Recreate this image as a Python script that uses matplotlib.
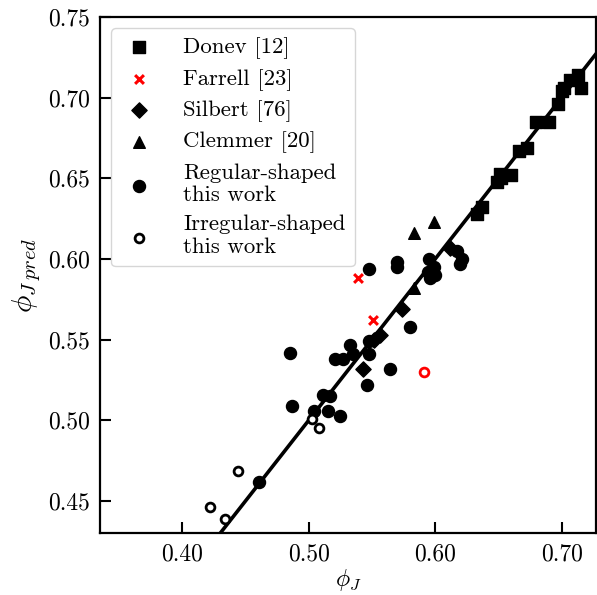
import numpy as np
import matplotlib
matplotlib.use('Agg')
import matplotlib.pyplot as plt

plt.rcParams['font.family'] = 'serif'
plt.rcParams['font.serif'] = ['cmr10', 'DejaVu Serif']
plt.rcParams['mathtext.fontset'] = 'cm'
plt.rcParams['axes.formatter.use_mathtext'] = True

# Donev [12]
donev_x = [0.713, 0.707, 0.715, 0.702, 0.697, 0.700, 0.690, 0.680, 0.673, 0.666,
           0.660, 0.651, 0.649, 0.652, 0.637, 0.633]
donev_y = [0.714, 0.711, 0.706, 0.706, 0.696, 0.704, 0.685, 0.685, 0.669, 0.667,
           0.652, 0.653, 0.648, 0.650, 0.632, 0.628]
# Farrell [23]
farrell_x = [0.539, 0.551]
farrell_y = [0.588, 0.562]
# Silbert [76]
silbert_x = [0.574, 0.556, 0.552, 0.543, 0.612]
silbert_y = [0.569, 0.553, 0.550, 0.532, 0.607]
# Clemmer [20]
clemmer_x = [0.583, 0.599, 0.583]
clemmer_y = [0.616, 0.623, 0.582]
# regular-shaped, this work
reg_x = [0.548, 0.570, 0.570, 0.595, 0.599, 0.596, 0.594, 0.600, 0.617, 0.621,
         0.620, 0.580, 0.485, 0.533, 0.521, 0.527, 0.535, 0.548, 0.548, 0.564,
         0.546, 0.487, 0.511, 0.517, 0.504, 0.515, 0.525, 0.461]
reg_y = [0.594, 0.598, 0.595, 0.600, 0.595, 0.588, 0.592, 0.590, 0.605, 0.600,
         0.597, 0.558, 0.542, 0.547, 0.538, 0.538, 0.541, 0.541, 0.549, 0.532,
         0.522, 0.509, 0.516, 0.515, 0.506, 0.506, 0.503, 0.462]
# irregular-shaped, this work
irr_x = [0.503, 0.508, 0.444, 0.422, 0.434]
irr_y = [0.501, 0.495, 0.4685, 0.446, 0.439]
irr_red_x = [0.591]
irr_red_y = [0.530]

# fit line y = a*x + b
fit_a, fit_b = 1.0, 0.0

fig = plt.figure(figsize=(5.97, 5.95), dpi=100)
ax = fig.add_axes([0.1675, 0.1037, 0.8315, 0.8677])

xs = np.array([0.3, 0.8])
ax.plot(xs, fit_a * xs + fit_b, color='black', linewidth=2.6, zorder=1)

ax.scatter(donev_x, donev_y, marker='s', s=80, color='black', label='Donev [12]', zorder=2)
ax.scatter(farrell_x, farrell_y, marker='x', s=40, color='red', linewidths=2.2,
           label='Farrell [23]', zorder=2)
ax.scatter(silbert_x, silbert_y, marker='D', s=60, color='black', label='Silbert [76]', zorder=2)
ax.scatter(clemmer_x, clemmer_y, marker='^', s=70, color='black', label='Clemmer [20]', zorder=2)
ax.scatter(reg_x, reg_y, marker='o', s=75, color='black',
           label='Regular-shaped\nthis work', zorder=2)
ax.scatter(irr_x, irr_y, marker='o', s=40, facecolors='white', edgecolors='black',
           linewidths=2, label='Irregular-shaped\nthis work', zorder=2)
ax.scatter(irr_red_x, irr_red_y, marker='o', s=40, facecolors='white', edgecolors='red',
           linewidths=2, zorder=2)

ax.set_xlim(0.335, 0.7275)
ax.set_ylim(0.43, 0.75)
ax.set_xticks([0.40, 0.50, 0.60, 0.70])
ax.set_yticks([0.45, 0.50, 0.55, 0.60, 0.65, 0.70, 0.75])
ax.xaxis.set_major_formatter(matplotlib.ticker.FormatStrFormatter('%.2f'))
ax.yaxis.set_major_formatter(matplotlib.ticker.FormatStrFormatter('%.2f'))
ax.tick_params(direction='in', length=8, width=1.5, labelsize=17, pad=7)
for sp in ax.spines.values():
    sp.set_linewidth(1.6)

ax.set_xlabel(r'$\phi_J$', fontsize=17, labelpad=1)
ax.set_ylabel(r'$\phi_{J\;pred}$', fontsize=21, labelpad=4)

ax.legend(loc='upper left', fontsize=16.4, handletextpad=1.15, borderpad=0.4,
          labelspacing=0.42, handlelength=1.6)

fig.savefig('out.png', dpi=100)
